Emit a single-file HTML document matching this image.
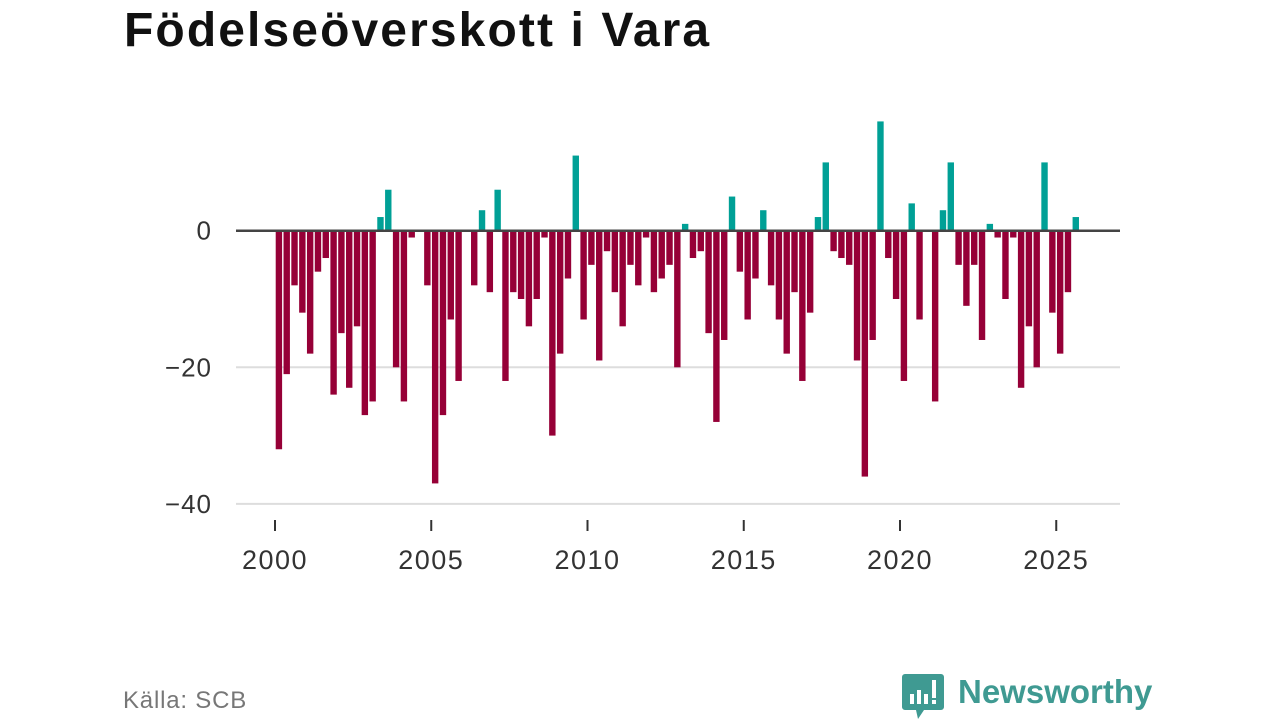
<!DOCTYPE html>
<html><head><meta charset="utf-8">
<style>
body{margin:0;width:1280px;height:720px;background:#fff;overflow:hidden;font-family:"Liberation Sans",sans-serif;}
#title{position:absolute;left:124px;top:3px;font-size:48px;font-weight:bold;color:#111;margin:0;letter-spacing:2.1px}
#src{position:absolute;left:123px;top:687px;font-size:24px;color:#777;letter-spacing:0.8px}
#logo{position:absolute;left:902px;top:670px;height:50px}
</style></head><body>
<h1 id="title">Födelseöverskott i Vara</h1>
<svg id="chart" width="1280" height="720" style="position:absolute;left:0;top:0"></svg>
<div id="src">Källa: SCB</div>
<svg id="logo" width="260" height="50" viewBox="0 0 260 50">
<path d="M3 4h36a3 3 0 0 1 3 3v30a3 3 0 0 1-3 3H22l-6 9-2-9H3a3 3 0 0 1-3-3V7a3 3 0 0 1 3-3z" fill="#3f9a92"/>
<rect x="8" y="24" width="4" height="10" fill="#fff"/><rect x="15" y="20" width="4" height="14" fill="#fff"/><rect x="22" y="24" width="4" height="10" fill="#fff"/><rect x="30" y="10" width="4" height="18" fill="#fff"/><rect x="30" y="30" width="4" height="4" fill="#fff"/>
<text x="56" y="33" font-family="Liberation Sans, sans-serif" font-size="33" font-weight="bold" fill="#3f9a92">Newsworthy</text>
</svg>
<script>
const values=[-32,-21,-8,-12,-18,-6,-4,-24,-15,-23,-14,-27,-25,2,6,-20,-25,-1,0,-8,-37,-27,-13,-22,0,-8,3,-9,6,-22,-9,-10,-14,-10,-1,-30,-18,-7,11,-13,-5,-19,-3,-9,-14,-5,-8,-1,-9,-7,-5,-20,1,-4,-3,-15,-28,-16,5,-6,-13,-7,3,-8,-13,-18,-9,-22,-12,2,10,-3,-4,-5,-19,-36,-16,16,-4,-10,-22,4,-13,0,-25,3,10,-5,-11,-5,-16,1,-1,-10,-1,-23,-14,-20,10,-12,-18,-9,2];
const startYear=2000;
const yTicks=[0,-20,-40];
const yTickLabels=["0","\u221220","\u221240"];
const xTicks=[2000,2005,2010,2015,2020,2025];
const svg=document.getElementById('chart');
const NS='http://www.w3.org/2000/svg';
const y=v=>230.7-v*6.83;
const x=yr=>275+(yr-2000)*31.25;
function mk(t,a){const e=document.createElementNS(NS,t);for(const k in a)e.setAttribute(k,a[k]);svg.appendChild(e);return e;}
yTicks.forEach((t,i)=>{
 if(t!==0){const g=mk('line',{x1:236,x2:1120,y1:y(t),y2:y(t),stroke:'#ddd','stroke-width':2});
 
 }
 const l=mk('text',{x:212,y:y(t)+9,'text-anchor':'end','font-size':26,'letter-spacing':1,fill:'#333','font-family':'Liberation Sans, sans-serif'});
 l.textContent=yTickLabels[i];
 
 
});
values.forEach((v,i)=>{
 const cx=x(startYear+i*0.25+0.125);
 const r=mk('rect',{x:cx-3.2,width:6.4,y:Math.min(y(v),y(0)),height:Math.abs(y(v)-y(0)),fill:v>=0?'#00a096':'#960037'});
 
 
});
const z=mk('line',{x1:236,x2:1120,y1:y(0),y2:y(0),stroke:'#444','stroke-width':2.5});


xTicks.forEach(t=>{
 const tk=mk('line',{x1:x(t),x2:x(t),y1:520,y2:531,stroke:'#333','stroke-width':2});
 
 
 const l=mk('text',{x:x(t),y:569,'text-anchor':'middle','font-size':27,'letter-spacing':1.5,fill:'#333','font-family':'Liberation Sans, sans-serif'});
 l.textContent=t;
 
 
});
</script>
</body></html>
